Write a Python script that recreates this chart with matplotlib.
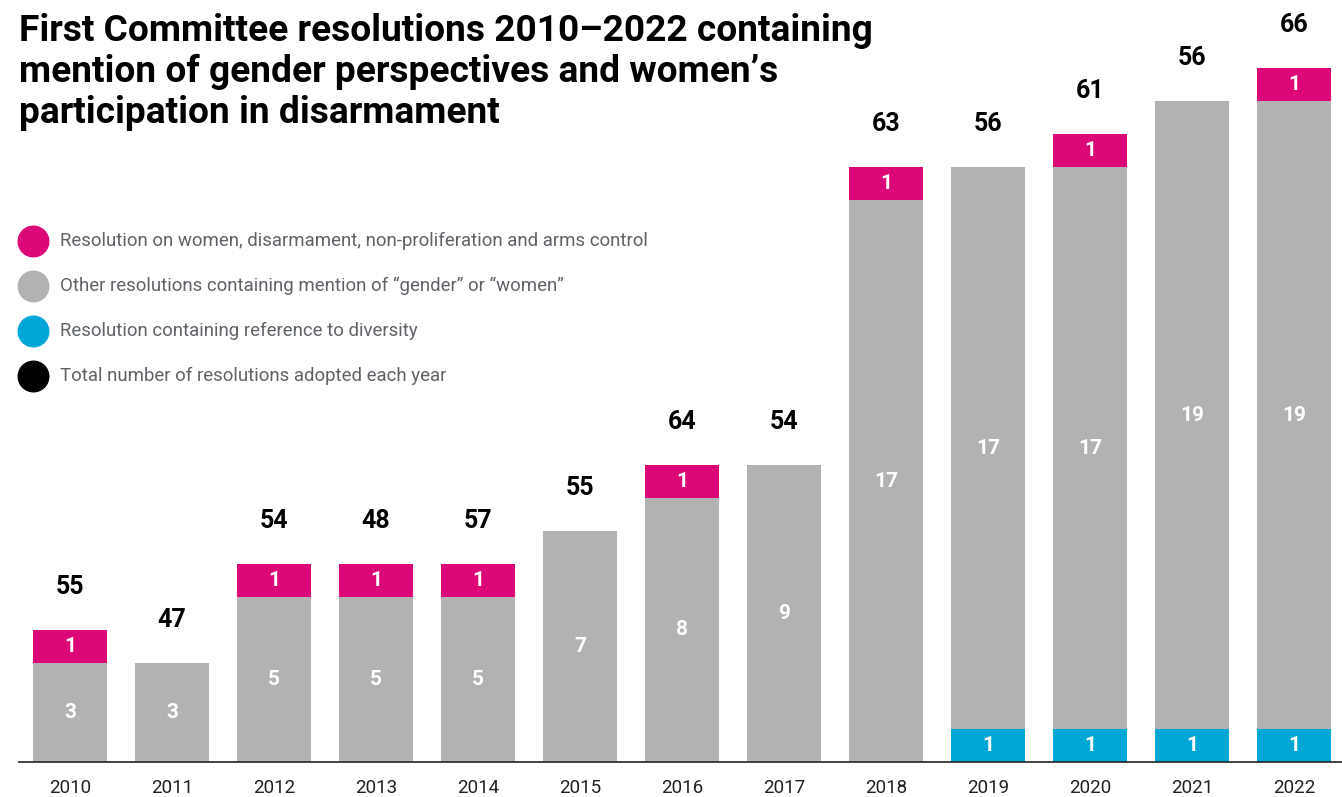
import numpy as np
import matplotlib.pyplot as plt
from matplotlib.lines import Line2D

years = ['2010', '2011', '2012', '2013', '2014', '2015', '2016',
         '2017', '2018', '2019', '2020', '2021', '2022']
diversity = [0, 0, 0, 0, 0, 0, 0, 0, 0, 1, 1, 1, 1]
other = [3, 3, 5, 5, 5, 7, 8, 9, 17, 17, 17, 19, 19]
women = [1, 0, 1, 1, 1, 0, 1, 0, 1, 0, 1, 0, 1]
totals = [55, 47, 54, 48, 57, 55, 64, 54, 63, 56, 61, 56, 66]

legend_labels = ['Resolution on women, disarmament, non-proliferation and arms control',
                 'Other resolutions containing mention of \u201cgender\u201d or \u201cwomen\u201d',
                 'Resolution containing reference to diversity',
                 'Total number of resolutions adopted each year']

c_mag = '#DD0877'
c_gray = '#B2B2B2'
c_cyan = '#00A6D6'

plt.rcParams['font.family'] = ['Roboto', 'DejaVu Sans']

fig = plt.figure(figsize=(13.42, 7.97), dpi=100)
ax = fig.add_axes([19 / 1342, 35 / 797, 1323 / 1342, 727 / 797])

x = np.arange(len(years))
w = 0.725
div = np.array(diversity)
oth = np.array(other)
wom = np.array(women)

ax.bar(x, div, w, color=c_cyan)
ax.bar(x, oth, w, bottom=div, color=c_gray)
ax.bar(x, wom, w, bottom=div + oth, color=c_mag)

for i in range(len(years)):
    if div[i] > 0:
        ax.text(x[i], div[i] / 2, str(div[i]), ha='center', va='center',
                color='white', fontsize=15, fontweight='bold')
    ax.text(x[i], div[i] + oth[i] / 2, str(oth[i]), ha='center', va='center',
            color='white', fontsize=15, fontweight='bold')
    if wom[i] > 0:
        ax.text(x[i], div[i] + oth[i] + wom[i] / 2, str(wom[i]), ha='center',
                va='center', color='white', fontsize=15, fontweight='bold')
    top = div[i] + oth[i] + wom[i]
    ax.text(x[i], top + 1.3, str(totals[i]), ha='center', va='center',
            color='black', fontsize=18, fontweight='bold', clip_on=False)

ax.set_xlim(-0.5, 12.47)
ax.set_ylim(0, 22)
ax.set_xticks(x)
ax.set_xticklabels(years, fontsize=13.5, color='#222222')
ax.tick_params(axis='x', length=0, pad=12)
ax.set_yticks([])
for s in ['top', 'right', 'left']:
    ax.spines[s].set_visible(False)
ax.spines['bottom'].set_color('#222222')
ax.spines['bottom'].set_linewidth(1.2)

fig.text(19 / 1342, 1 - 13 / 797,
         'First Committee resolutions 2010\u20132022 containing\n'
         'mention of gender perspectives and women\u2019s\n'
         'participation in disarmament',
         ha='left', va='top', fontsize=26.7, fontweight='bold',
         color='black', linespacing=1.17)

colors = [c_mag, c_gray, c_cyan, 'black']
for k, (lab, col) in enumerate(zip(legend_labels, colors)):
    yy = 1 - (241 + 45 * k) / 797
    fig.add_artist(Line2D([33 / 1342], [yy], marker='o', markersize=22,
                          color=col, linestyle='none'))
    fig.text(60 / 1342, yy, lab, ha='left', va='center', fontsize=13.4,
             color='#5f6368')

fig.savefig('out.png', dpi=100, facecolor='white')
